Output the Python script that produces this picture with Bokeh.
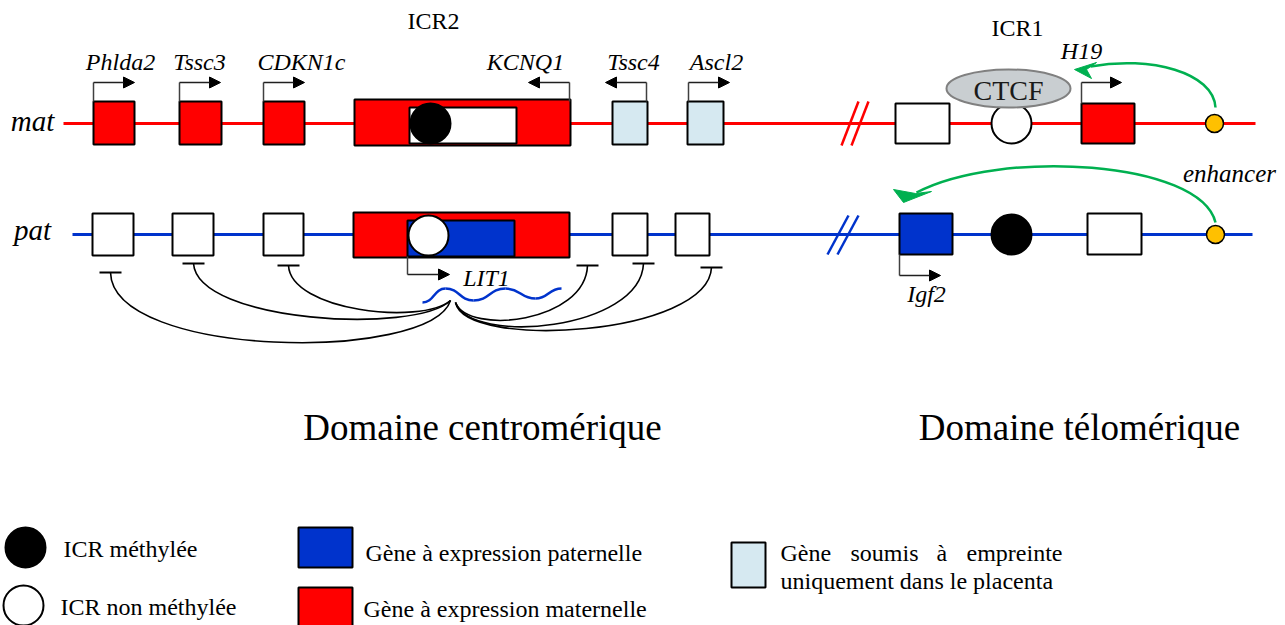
from bokeh.plotting import figure
from bokeh.models import Range1d, Arrow, NormalHead
from bokeh.embed import file_html
from bokeh.resources import INLINE
from bokeh.core.properties import value

SERIF = "Liberation Serif"
RED = "#FF0000"
BLUE = "#0033CC"
LIGHT = "#D6E9F1"
GREEN = "#00B050"
YELLOW = "#FFC000"
GREY = "#C9CED1"

# ---------------- data ----------------
MAT_Y = 123
PAT_Y = 234

# centromeric domain, maternal allele
mat_genes = ["Phlda2", "Tssc3", "CDKN1c", "KCNQ1", "Tssc4", "Ascl2"]
mat_left = [93, 179, 263, 354, 612, 687]
mat_right = [134, 221, 304, 570, 647, 723]
mat_colors = [RED, RED, RED, RED, LIGHT, LIGHT]
mat_label_x = [120, 199, 301, 525, 633, 716]
mat_dir = [1, 1, 1, -1, -1, 1]          # transcription direction
mat_tss = [93, 179, 263, 569, 646, 688]

# centromeric domain, paternal allele
pat_left = [92, 172, 263, 353, 612, 675]
pat_right = [133, 213, 303, 569, 647, 709]
pat_colors = ["white", "white", "white", RED, "white", "white"]

# telomeric domain
tel_mat_left = [895, 1081]
tel_mat_right = [949, 1134]
tel_mat_colors = ["white", RED]
tel_pat_left = [899, 1087]
tel_pat_right = [952, 1141]
tel_pat_colors = [BLUE, "white"]

# ICRs (x, y, methylated?)
icr_x = [430, 428, 1011, 1011]
icr_y = [MAT_Y, PAT_Y + 1, MAT_Y, PAT_Y]
icr_fill = ["black", "white", "white", "black"]

# LIT1 silencing targets (T-bar positions)
left_targets_x = [110, 193, 288]
left_targets_y = [272, 263, 265]
right_targets_x = [587, 643, 711]
right_targets_y = [265, 263, 267]

legend_circle_labels = ["ICR méthylée", "ICR non méthylée"]
legend_box_labels = ["Gène à expression paternelle", "Gène à expression maternelle"]

# ---------------- figure ----------------
W, H = 1285, 625
p = figure(width=W, height=H, output_backend="svg", toolbar_location=None,
           x_range=Range1d(0, W), y_range=Range1d(H, 0),
           min_border=0, background_fill_color="white", border_fill_color="white")
p.axis.visible = False
p.grid.visible = False
p.outline_line_color = None


def txt(x, y, t, size, italic=False, align="center", color="black", baseline="middle"):
    p.text(x=[x], y=[y], text=[t], text_font=value(SERIF), text_font_size=size,
           text_font_style="italic" if italic else "normal", text_align=align,
           text_baseline=baseline, text_color=color)


# chromosome lines
p.segment(x0=[63], y0=[MAT_Y], x1=[1255], y1=[MAT_Y], line_color=RED, line_width=3)
p.segment(x0=[72], y0=[PAT_Y], x1=[1252], y1=[PAT_Y], line_color=BLUE, line_width=3)
# break marks
p.segment(x0=[841, 851], y0=[145, 145], x1=[858, 868], y1=[101, 101], line_color=RED, line_width=2.5)
p.segment(x0=[827, 837], y0=[254, 254], x1=[848, 858], y1=[215, 215], line_color=BLUE, line_width=2.5)

txt(32, 120, "mat", "29px", italic=True)
txt(32, 229, "pat", "29px", italic=True)

# maternal boxes
small = [i for i in range(6) if i != 3]
p.quad(left=[mat_left[i] for i in small], right=[mat_right[i] for i in small],
       top=[101] * 5, bottom=[144] * 5, fill_color=[mat_colors[i] for i in small],
       line_color="black", line_width=2)
p.quad(left=[mat_left[3]], right=[mat_right[3]], top=[99], bottom=[145],
       fill_color=mat_colors[3], line_color="black", line_width=2)
p.quad(left=[409], right=[516], top=[107], bottom=[143], fill_color="white",
       line_color="black", line_width=2)

# paternal boxes
p.quad(left=[pat_left[i] for i in small], right=[pat_right[i] for i in small],
       top=[213] * 5, bottom=[255] * 5, fill_color=[pat_colors[i] for i in small],
       line_color="black", line_width=2)
p.quad(left=[pat_left[3]], right=[pat_right[3]], top=[212], bottom=[257],
       fill_color=pat_colors[3], line_color="black", line_width=2)
p.quad(left=[407], right=[514], top=[220], bottom=[256], fill_color=BLUE,
       line_color="black", line_width=2)

# telomeric boxes
p.quad(left=tel_mat_left, right=tel_mat_right, top=[103, 103], bottom=[143, 143],
       fill_color=tel_mat_colors, line_color="black", line_width=2)
p.quad(left=tel_pat_left, right=tel_pat_right, top=[213, 213], bottom=[254, 254],
       fill_color=tel_pat_colors, line_color="black", line_width=2)

# ICR circles
p.circle(x=icr_x, y=icr_y, radius=20, fill_color=icr_fill, line_color="black", line_width=2)

# CTCF
p.ellipse(x=[1008], y=[88], width=[124], height=[38], fill_color=GREY,
          line_color="#808080", line_width=2)
txt(1008, 90, "CTCF", "28px", color="#1a1a1a")

# enhancers
p.circle(x=[1214, 1215], y=[MAT_Y, PAT_Y], radius=9, fill_color=YELLOW,
         line_color="black", line_width=1.5)


def promoter(x0, y0, y1, x1):
    p.segment(x0=[x0], y0=[y0], x1=[x0], y1=[y1], line_color="#404040", line_width=1.5)
    p.add_layout(Arrow(x_start=x0, y_start=y1, x_end=x1, y_end=y1, line_color="#202020",
                       line_width=1.5,
                       end=NormalHead(size=11, fill_color="black", line_color="black")))


for i, g in enumerate(mat_genes):
    xs = mat_tss[i]
    promoter(xs, 101, 82, xs + 41 * mat_dir[i])
    txt(mat_label_x[i], 61, g, "24px", italic=True)

promoter(1081, 103, 82, 1121)  # H19
txt(1081, 50, "H19", "24px", italic=True)
promoter(899, 254, 275, 940)   # Igf2
txt(926, 293, "Igf2", "24px", italic=True)
promoter(407, 256, 274, 449)   # LIT1
txt(486, 277, "LIT1", "24px", italic=True)
txt(1229, 173, "enhancer", "25px", italic=True)

txt(433, 20, "ICR2", "24px")
txt(1017, 27, "ICR1", "24px")

# green enhancer arrows
p.bezier(x0=[1215], y0=[107], cx0=[1213], cy0=[72], cx1=[1150], cy1=[55], x1=[1090], y1=[66],
         line_color=GREEN, line_width=2.5)
p.patch(x=[1074, 1096, 1086, 1091], y=[69, 62, 69, 78], fill_color=GREEN, line_color=GREEN)
p.bezier(x0=[1215], y0=[222], cx0=[1200], cy0=[160], cx1=[1000], cy1=[148], x1=[916], y1=[192],
         line_color=GREEN, line_width=2.5)
p.patch(x=[903, 893, 915, 931], y=[202, 189, 193, 191], fill_color=GREEN, line_color=GREEN)

# LIT1 transcript wave
wx = [422, 445, 473, 505, 535, 561]
wy = [302, 288, 300, 288, 298, 288]
p.bezier(x0=wx[:-1], y0=wy[:-1],
         cx0=[(a + b) / 2 for a, b in zip(wx[:-1], wx[1:])], cy0=wy[:-1],
         cx1=[(a + b) / 2 for a, b in zip(wx[:-1], wx[1:])], cy1=wy[1:],
         x1=wx[1:], y1=wy[1:], line_color=BLUE, line_width=2.5)

# silencing arcs
p.bezier(x0=left_targets_x, y0=left_targets_y,
         cx0=[112, 197, 290], cy0=[358, 322, 310],
         cx1=[430, 415, 420], cy1=[362, 334, 325],
         x1=[450, 450, 450], y1=[300, 300, 300], line_color="black", line_width=1.6)
p.bezier(x0=[455, 455, 455], y0=[302, 302, 302],
         cx0=[468, 470, 465], cy0=[335, 345, 350],
         cx1=[585, 640, 708], cy1=[322, 330, 335],
         x1=right_targets_x, y1=right_targets_y, line_color="black", line_width=1.6)
tx = left_targets_x + right_targets_x
ty = left_targets_y + right_targets_y
p.segment(x0=[x - 11 for x in tx], y0=ty, x1=[x + 11 for x in tx], y1=ty,
          line_color="black", line_width=2)

# domain titles
txt(482, 427, "Domaine centromérique", "37px")
txt(1079, 427, "Domaine télomérique", "37px")

# legend
p.circle(x=[25, 23], y=[547, 605], radius=20, fill_color=["black", "white"],
         line_color="black", line_width=2)
txt(63, 548, legend_circle_labels[0], "24px", align="left")
txt(60, 606, legend_circle_labels[1], "24px", align="left")
p.quad(left=[298, 298], right=[352, 352], top=[527, 587], bottom=[567, 630],
       fill_color=[BLUE, RED], line_color="black", line_width=2)
txt(365, 552, legend_box_labels[0], "24px", align="left")
txt(363, 608, legend_box_labels[1], "24px", align="left")
p.quad(left=[731], right=[765], top=[542], bottom=[587], fill_color=LIGHT,
       line_color="black", line_width=2)
lw = ["Gène", "soumis", "à", "empreinte"]
lx = [780, 850, 936, 966]
p.text(x=lx, y=[552] * 4, text=lw, text_font=value(SERIF), text_font_size="24px",
       text_align="left", text_baseline="middle", text_color="black")
txt(780, 580, "uniquement dans le placenta", "24px", align="left")

open("out.html", "w").write(file_html(p, INLINE))
